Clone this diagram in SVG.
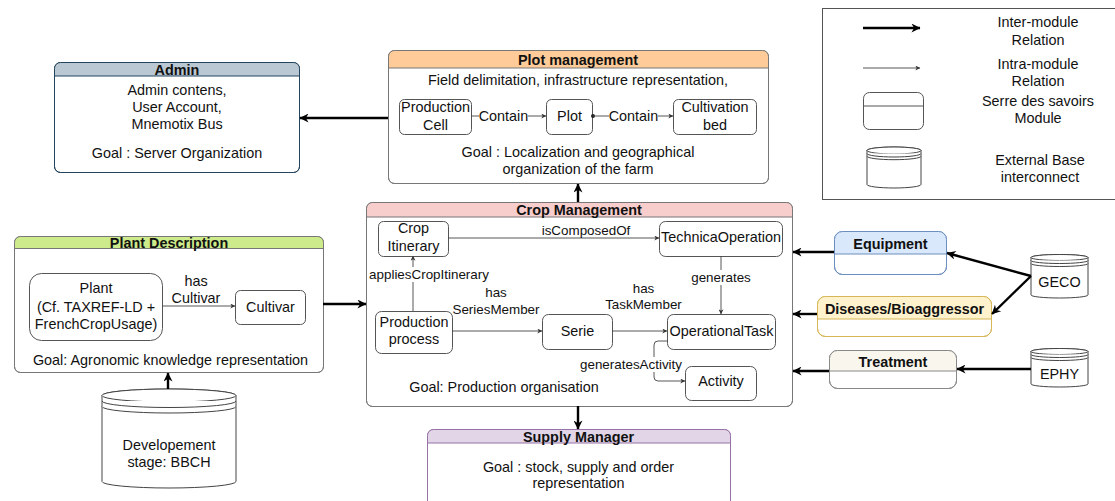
<svg xmlns="http://www.w3.org/2000/svg" width="1115" height="501" viewBox="0 0 1115 501">
<defs>
<style>
text{font-family:"Liberation Sans",Arial,Helvetica,sans-serif;font-size:14.4px;fill:#111;text-anchor:middle}
.t{font-weight:bold}
.e{font-size:13.4px}
.body{fill:#fff;stroke-width:1}
.out{fill:none;stroke-width:1}
.inner{fill:#fff;stroke:#555;stroke-width:1}
.thick{fill:none;stroke:#000;stroke-width:2.4}
.thin{fill:none;stroke:#444;stroke-width:0.9}
.cyl{fill:#fff;stroke:#444;stroke-width:1}
.bg{fill:#fff}
</style>
<marker id="big" viewBox="0 0 10 10" refX="9.5" refY="5" markerWidth="11" markerHeight="9" markerUnits="userSpaceOnUse" orient="auto"><path d="M0,0 L10,5 L0,10 L3,5 Z" fill="#000"/></marker>
<marker id="sm" viewBox="0 0 10 10" refX="9.5" refY="5" markerWidth="6" markerHeight="5" markerUnits="userSpaceOnUse" orient="auto"><path d="M0,0 L10,5 L0,10 L3,5 Z" fill="#333"/></marker>
</defs>
<rect width="1115" height="501" fill="#fff"/>

<!-- Legend -->
<g id="legend">
<rect x="822.5" y="8.5" width="300" height="191" fill="#fff" stroke="#555" stroke-width="1"/>
<line x1="863" y1="28" x2="920" y2="28" class="thick" marker-end="url(#big)"/>
<text x="1038" y="27">Inter-module</text>
<text x="1038" y="45">Relation</text>
<line x1="863" y1="68" x2="920" y2="68" class="thin" marker-end="url(#sm)"/>
<text x="1038" y="69">Intra-module</text>
<text x="1038" y="86">Relation</text>
<rect x="863.5" y="92.5" width="60" height="37" rx="6" fill="#fff" stroke="#555"/>
<line x1="863.5" y1="106" x2="923.5" y2="106" stroke="#555"/>
<text x="1038" y="106">Serre des savoirs</text>
<text x="1038" y="123">Module</text>
<path class="cyl" d="M867,150.5 A27,3.5 0 0 1 921,150.5 V184.5 A27,3.5 0 0 1 867,184.5 Z"/>
<ellipse class="cyl" cx="894" cy="150.5" rx="27" ry="3.5"/>
<path class="cyl" fill="none" d="M867,153.5 A27,3.5 0 0 0 921,153.5 M867,156.2 A27,3.5 0 0 0 921,156.2"/>
<text x="1040" y="165">External Base</text>
<text x="1040" y="182">interconnect</text>
</g>

<!-- Admin -->
<g id="admin">
<rect class="body" x="54.5" y="62.5" width="245" height="110" rx="6" stroke="#23445d"/>
<path d="M54.5,76 V68.5 A6,6 0 0 1 60.5,62.5 H293.5 A6,6 0 0 1 299.5,68.5 V76 Z" fill="#bac8d3"/>
<line x1="54.5" y1="76" x2="299.5" y2="76" stroke="#23445d"/>
<rect class="out" x="54.5" y="62.5" width="245" height="110" rx="6" stroke="#23445d"/>
<text class="t" x="177" y="75">Admin</text>
<text x="177" y="95">Admin contens,</text>
<text x="177" y="112">User Account,</text>
<text x="177" y="129">Mnemotix Bus</text>
<text x="177" y="158">Goal : Server Organization</text>
</g>

<!-- Plot management -->
<g id="plot-management">
<rect class="body" x="388.5" y="50.5" width="380" height="133" rx="6" stroke="#777"/>
<path d="M388.5,68 V56.5 A6,6 0 0 1 394.5,50.5 H762.5 A6,6 0 0 1 768.5,56.5 V68 Z" fill="#ffcc99"/>
<line x1="388.5" y1="68" x2="768.5" y2="68" stroke="#777"/>
<rect class="out" x="388.5" y="50.5" width="380" height="133" rx="6" stroke="#777"/>
<text class="t" x="578" y="65">Plot management</text>
<text x="578" y="85">Field delimitation, infrastructure representation,</text>
<text x="578" y="157">Goal : Localization and geographical</text>
<text x="578" y="174">organization of the farm</text>
</g>
<g id="production-cell">
<rect class="inner" x="399.5" y="99.5" width="72" height="35" rx="5"/>
<text x="435.5" y="112">Production</text>
<text x="435.5" y="130">Cell</text>
</g>
<g id="plot">
<rect class="inner" x="546.5" y="99.5" width="46" height="35" rx="5"/>
<text x="569.5" y="121">Plot</text>
</g>
<g id="cultivation-bed">
<rect class="inner" x="673.5" y="99.5" width="83" height="35" rx="5"/>
<text x="715" y="112">Cultivation</text>
<text x="715" y="130">bed</text>
</g>

<!-- Plant Description -->
<g id="plant-description">
<rect class="body" x="14.5" y="236.5" width="309" height="136" rx="6" stroke="#777"/>
<path d="M14.5,248.5 V242.5 A6,6 0 0 1 20.5,236.5 H317.5 A6,6 0 0 1 323.5,242.5 V248.5 Z" fill="#cdeb8b"/>
<line x1="14.5" y1="248.5" x2="323.5" y2="248.5" stroke="#777"/>
<rect class="out" x="14.5" y="236.5" width="309" height="136" rx="6" stroke="#777"/>
<text class="t" x="169" y="248">Plant Description</text>
<text x="170.5" y="365">Goal: Agronomic knowledge representation</text>
</g>
<g id="plant">
<rect class="inner" x="29.5" y="273.5" width="133" height="67" rx="12"/>
<text x="96" y="293">Plant</text>
<text x="96" y="312">(Cf. TAXREF-LD +</text>
<text x="96" y="329">FrenchCropUsage)</text>
</g>
<g id="cultivar">
<rect class="inner" x="235.5" y="290.5" width="70" height="34" rx="5"/>
<text x="270.5" y="312">Cultivar</text>
</g>

<!-- Developement stage -->
<g id="developement-stage">
<path class="cyl" d="M102,395.5 A67,6.5 0 0 1 236,395.5 V481.5 A67,6.5 0 0 1 102,481.5 Z"/>
<ellipse class="cyl" cx="169" cy="395.5" rx="67" ry="6.5"/>
<path class="cyl" fill="none" d="M102,401 A67,6.5 0 0 0 236,401 M102,406.5 A67,6.5 0 0 0 236,406.5"/>
<text x="169" y="450">Developement</text>
<text x="169" y="467">stage: BBCH</text>
</g>

<!-- Crop Management -->
<g id="crop-management">
<rect class="body" x="366.5" y="202.5" width="426" height="204" rx="6" stroke="#777"/>
<path d="M366.5,217 V208.5 A6,6 0 0 1 372.5,202.5 H786.5 A6,6 0 0 1 792.5,208.5 V217 Z" fill="#f8cecc"/>
<line x1="366.5" y1="217" x2="792.5" y2="217" stroke="#777"/>
<rect class="out" x="366.5" y="202.5" width="426" height="204" rx="6" stroke="#777"/>
<text class="t" x="579" y="215">Crop Management</text>
<text x="504" y="392">Goal: Production organisation</text>
</g>
<g id="crop-itinerary">
<rect class="inner" x="378.5" y="221.5" width="70" height="35" rx="5"/>
<text x="413.5" y="233">Crop</text>
<text x="413.5" y="251">Itinerary</text>
</g>
<g id="technica-operation">
<rect class="inner" x="659.5" y="221.5" width="123" height="35" rx="6"/>
<text x="721" y="242">TechnicaOperation</text>
</g>
<g id="production-process">
<rect class="inner" x="375.5" y="311.5" width="77" height="42" rx="6"/>
<text x="414" y="327">Production</text>
<text x="414" y="344">process</text>
</g>
<g id="serie">
<rect class="inner" x="542.5" y="314.5" width="70" height="35" rx="6"/>
<text x="577.5" y="336">Serie</text>
</g>
<g id="operational-task">
<rect class="inner" x="667.5" y="314.5" width="108" height="35" rx="6"/>
<text x="721.5" y="336">OperationalTask</text>
</g>
<g id="activity">
<rect class="inner" x="685.5" y="366.5" width="71" height="34" rx="6"/>
<text x="721" y="386">Activity</text>
</g>

<!-- Supply Manager -->
<g id="supply-manager">
<rect class="body" x="427.5" y="429.5" width="303" height="90" rx="6" stroke="#9673a6"/>
<path d="M427.5,443 V435.5 A6,6 0 0 1 433.5,429.5 H724.5 A6,6 0 0 1 730.5,435.5 V443 Z" fill="#e1d5e7"/>
<line x1="427.5" y1="443" x2="730.5" y2="443" stroke="#9673a6"/>
<rect class="out" x="427.5" y="429.5" width="303" height="90" rx="6" stroke="#9673a6"/>
<text class="t" x="578.5" y="442">Supply Manager</text>
<text x="578.5" y="472">Goal : stock, supply and order</text>
<text x="578.5" y="488">representation</text>
</g>

<!-- Right modules -->
<g id="equipment">
<rect x="834.5" y="231.5" width="112" height="43" rx="8" fill="#fff" stroke="#6c8ebf"/>
<path d="M834.5,254 V239.5 A8,8 0 0 1 842.5,231.5 H938.5 A8,8 0 0 1 946.5,239.5 V254 Z" fill="#dae8fc"/>
<line x1="834.5" y1="254" x2="946.5" y2="254" stroke="#6c8ebf"/>
<rect x="834.5" y="231.5" width="112" height="43" rx="8" fill="none" stroke="#6c8ebf"/>
<text class="t" x="890.5" y="249">Equipment</text>
</g>
<g id="diseases-bioaggressor">
<rect x="817.5" y="296.5" width="174" height="40" rx="8" fill="#fff" stroke="#d6b656"/>
<path d="M817.5,319 V304.5 A8,8 0 0 1 825.5,296.5 H983.5 A8,8 0 0 1 991.5,304.5 V319 Z" fill="#fff2cc"/>
<line x1="817.5" y1="319" x2="991.5" y2="319" stroke="#d6b656"/>
<rect x="817.5" y="296.5" width="174" height="40" rx="8" fill="none" stroke="#d6b656"/>
<text class="t" x="904.5" y="314">Diseases/Bioaggressor</text>
</g>
<g id="treatment">
<rect x="829.5" y="350.5" width="127" height="38" rx="8" fill="#fff" stroke="#888"/>
<path d="M829.5,371 V358.5 A8,8 0 0 1 837.5,350.5 H948.5 A8,8 0 0 1 956.5,358.5 V371 Z" fill="#f9f7ed"/>
<line x1="829.5" y1="371" x2="956.5" y2="371" stroke="#888"/>
<rect x="829.5" y="350.5" width="127" height="38" rx="8" fill="none" stroke="#888"/>
<text class="t" x="893" y="367">Treatment</text>
</g>
<g id="geco">
<path class="cyl" d="M1031,257.5 A28.5,3 0 0 1 1088,257.5 V295 A28.5,3 0 0 1 1031,295 Z"/>
<ellipse class="cyl" cx="1059.5" cy="257.5" rx="28.5" ry="3"/>
<path class="cyl" fill="none" d="M1031,260.5 A28.5,3 0 0 0 1088,260.5 M1031,263.5 A28.5,3 0 0 0 1088,263.5"/>
<text x="1059.5" y="287">GECO</text>
</g>
<g id="ephy">
<path class="cyl" d="M1031,351.5 A28.5,3 0 0 1 1088,351.5 V384 A28.5,3 0 0 1 1031,384 Z"/>
<ellipse class="cyl" cx="1059.5" cy="351.5" rx="28.5" ry="3"/>
<path class="cyl" fill="none" d="M1031,354.5 A28.5,3 0 0 0 1088,354.5 M1031,357.5 A28.5,3 0 0 0 1088,357.5"/>
<text x="1059.5" y="379">EPHY</text>
</g>

<!-- Connectors -->
<g id="connectors">
<!-- inter-module -->
<line class="thick" x1="388" y1="118" x2="300" y2="118" marker-end="url(#big)"/>
<line class="thick" x1="578" y1="202" x2="578" y2="184" marker-end="url(#big)"/>
<line class="thick" x1="323" y1="304" x2="366" y2="304" marker-end="url(#big)"/>
<line class="thick" x1="168" y1="389" x2="168" y2="373" marker-end="url(#big)"/>
<line class="thick" x1="578" y1="406" x2="578" y2="429" marker-end="url(#big)"/>
<line class="thick" x1="834" y1="252" x2="793" y2="252" marker-end="url(#big)"/>
<line class="thick" x1="817" y1="314" x2="793" y2="314" marker-end="url(#big)"/>
<line class="thick" x1="829" y1="371" x2="793" y2="371" marker-end="url(#big)"/>
<line class="thick" x1="1031" y1="276" x2="947" y2="253" marker-end="url(#big)"/>
<line class="thick" x1="1031" y1="276" x2="992" y2="314" marker-end="url(#big)"/>
<line class="thick" x1="1031" y1="369" x2="957" y2="369" marker-end="url(#big)"/>

<!-- intra-module: plot -->
<line class="thin" x1="471" y1="116" x2="546" y2="116" marker-end="url(#sm)"/>
<rect class="bg" x="479" y="108" width="49" height="16"/>
<text x="503.5" y="121">Contain</text>
<circle cx="593" cy="116" r="2" fill="#222"/>
<line class="thin" x1="593" y1="116" x2="673" y2="116" marker-end="url(#sm)"/>
<rect class="bg" x="609" y="108" width="49" height="16"/>
<text x="633.5" y="121">Contain</text>

<!-- plant -->
<line class="thin" x1="162" y1="306" x2="235" y2="306" marker-end="url(#sm)"/>
<text x="196" y="286">has</text>
<text x="196" y="303">Cultivar</text>

<!-- crop management -->
<line class="thin" x1="448" y1="238" x2="659" y2="238" marker-end="url(#sm)"/>
<text class="e" x="586" y="235">isComposedOf</text>
<line class="thin" x1="413" y1="311" x2="413" y2="256" marker-end="url(#sm)"/>
<rect class="bg" x="369" y="267" width="120" height="15"/>
<text class="e" x="429" y="279">appliesCropItinerary</text>
<line class="thin" x1="452" y1="331" x2="542" y2="331" marker-end="url(#sm)"/>
<text class="e" x="496" y="297">has</text>
<text class="e" x="496" y="314">SeriesMember</text>
<line class="thin" x1="612" y1="331" x2="667" y2="331" marker-end="url(#sm)"/>
<text class="e" x="643.5" y="293">has</text>
<text class="e" x="643.5" y="309">TaskMember</text>
<line class="thin" x1="721" y1="256" x2="721" y2="314" marker-end="url(#sm)"/>
<rect class="bg" x="691" y="270" width="61" height="15"/>
<text class="e" x="721" y="282">generates</text>
<path class="thin" d="M667,341 H658 Q654,341 654,345 V377 Q654,381 658,381 H685" marker-end="url(#sm)"/>
<rect class="bg" x="578" y="357" width="106" height="15"/>
<text class="e" x="631" y="369">generatesActivity</text>
</g>
</svg>
